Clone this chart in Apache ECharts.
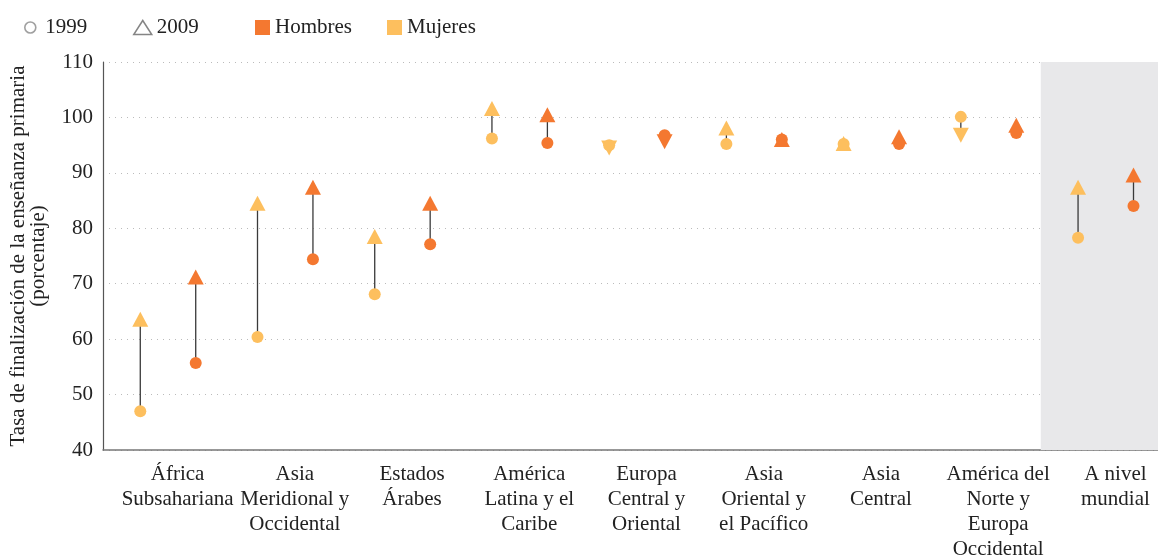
<!DOCTYPE html>
<html>
<head>
<meta charset="utf-8">
<script src="https://cdn.jsdelivr.net/npm/echarts@6/dist/echarts.min.js"></script>
<style>
html,body{margin:0;padding:0;background:#fff;}
#chart{width:1158px;height:555px;}
</style>
</head>
<body>
<div id="chart"></div>
<script>
const categories = ['África\nSubsahariana', 'Asia\nMeridional y\nOccidental', 'Estados\nÁrabes', 'América\nLatina y el\nCaribe', 'Europa\nCentral y\nOriental', 'Asia\nOriental y\nel Pacífico', 'Asia\nCentral', 'América del\nNorte y\nEuropa\nOccidental', 'A nivel\nmundial'];
const mujeres1999 = [47.0, 60.4, 68.1, 96.2, 95.0, 95.2, 95.2, 100.1, 78.3];
const mujeres2009 = [63.6, 84.5, 78.5, 101.6, 94.5, 98.1, 95.3, 96.8, 87.4];
const hombres1999 = [55.7, 74.4, 77.1, 95.4, 96.8, 96.0, 95.2, 97.2, 84.0];
const hombres2009 = [71.2, 87.4, 84.5, 100.5, 95.6, 96.0, 96.5, 98.6, 89.6];
const yTicks = [40, 50, 60, 70, 80, 90, 100, 110];

const FONT = "'Liberation Serif', 'DejaVu Serif', serif";
const FS = 21;
const C_H = '#F47830';
const C_M = '#FDBF5E';
const OFF_M = 0.318, OFF_H = 0.791;

function circles(vals, off) {
  return vals.map((v, i) => [i + off, v]);
}
function triangles(v99, v09, off) {
  return v09.map((v, i) => ({ value: [i + off, v], symbolRotate: v >= v99[i] ? 0 : 180 }));
}
function links(v99, v09, off) {
  return v99.map((v, i) => [i + off, v, v09[i]]);
}
const linkSeries = (data) => ({
  type: 'custom', xAxisIndex: 0, yAxisIndex: 0, z: 1, silent: true,
  renderItem: function (params, api) {
    const a = api.coord([api.value(0), api.value(1)]);
    const b = api.coord([api.value(0), api.value(2)]);
    return { type: 'line', shape: { x1: a[0], y1: a[1], x2: b[0], y2: b[1] }, style: { stroke: '#3a3a3a', lineWidth: 1.3 } };
  },
  data: data
});
const legendText = { fontSize: FS, color: '#222', fontFamily: FONT };
function oneLegend(left, w, h, item) {
  return { left: left, top: 17, padding: 0, itemWidth: w, itemHeight: h, textStyle: legendText, data: [item], selectedMode: false };
}

const chart = echarts.init(document.getElementById('chart'));
chart.setOption({
  animation: false,
  textStyle: { fontFamily: FONT },
  legend: [
    oneLegend(24, 20, 11, { name: '1999', icon: 'circle', itemStyle: { color: '#fff', borderColor: '#888', borderWidth: 1.6 } }),
    oneLegend(133, 18, 14, { name: '2009', icon: 'triangle', itemStyle: { color: '#fff', borderColor: '#666', borderWidth: 1.5 } }),
    oneLegend(255, 15, 15, { name: 'Hombres', icon: 'rect', itemStyle: { color: C_H } }),
    oneLegend(387, 15, 15, { name: 'Mujeres', icon: 'rect', itemStyle: { color: C_M } })
  ],
  grid: { left: 103, right: 0, top: 62, bottom: 105, containLabel: false, outerBoundsMode: 'none' },
  xAxis: [{
    type: 'value', min: 0, max: 9, show: false
  }, {
    type: 'category', data: categories, position: 'bottom',
    axisLine: { show: true, lineStyle: { color: '#777', width: 1.5 } },
    axisTick: { show: false },
    axisLabel: { interval: 0, fontSize: FS, lineHeight: 25, color: '#222', margin: 12, padding: [0, 0, 0, 32], fontFamily: FONT },
    splitLine: { show: false }
  }],
  yAxis: {
    type: 'value', min: 40, max: 110, interval: 10,
    name: 'Tasa de finalización de la enseñanza primaria\n(porcentaje)',
    nameLocation: 'middle', nameRotate: 90, nameGap: 55,
    nameTextStyle: { fontSize: FS, lineHeight: 20, color: '#222', fontFamily: FONT },
    axisLine: { show: true, lineStyle: { color: '#555', width: 1.2 } },
    axisTick: { show: false },
    axisLabel: { fontSize: FS, color: '#222', margin: 10, fontFamily: FONT,
      formatter: v => yTicks.includes(v) ? String(v) : '' },
    splitLine: { show: true, lineStyle: { color: '#bbb', type: [1, 5], width: 1 } }
  },
  series: [
    {
      name: '1999', type: 'scatter', data: [],
      markArea: { silent: true, itemStyle: { color: '#E8E8EA' }, data: [[{ xAxis: 8 }, { xAxis: 9 }]] }
    },
    { name: '2009', type: 'scatter', data: [] },
    linkSeries(links(mujeres1999, mujeres2009, OFF_M)),
    linkSeries(links(hombres1999, hombres2009, OFF_H)),
    { name: 'Mujeres', type: 'scatter', z: 3, symbol: 'triangle', symbolSize: [16, 15], itemStyle: { color: C_M, opacity: 1 }, data: triangles(mujeres1999, mujeres2009, OFF_M) },
    { name: 'Hombres', type: 'scatter', z: 3, symbol: 'triangle', symbolSize: [16, 15], itemStyle: { color: C_H, opacity: 1 }, data: triangles(hombres1999, hombres2009, OFF_H) },
    { name: 'Mujeres', type: 'scatter', z: 4, symbol: 'circle', symbolSize: 12, itemStyle: { color: C_M, opacity: 1 }, data: circles(mujeres1999, OFF_M) },
    { name: 'Hombres', type: 'scatter', z: 4, symbol: 'circle', symbolSize: 12, itemStyle: { color: C_H, opacity: 1 }, data: circles(hombres1999, OFF_H) }
  ]
});
</script>
</body>
</html>
